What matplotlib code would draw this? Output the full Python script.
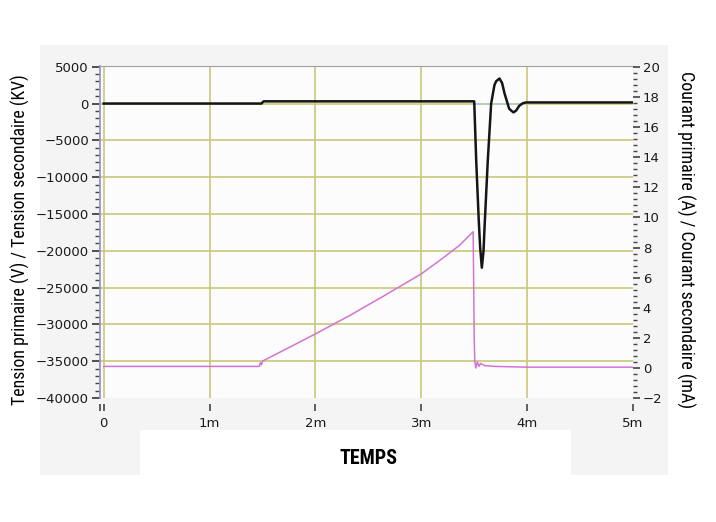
import numpy as np
import matplotlib
matplotlib.use("Agg")
import matplotlib.pyplot as plt
from matplotlib import font_manager
from matplotlib.patches import Rectangle
from matplotlib.ticker import MultipleLocator, FixedLocator

# time axis in ms, values
black_t = [0, 1.49, 1.51, 3.50, 3.519, 3.543, 3.556, 3.572, 3.588, 3.597, 3.628, 3.660,
           3.691, 3.707, 3.739, 3.764, 3.786, 3.830, 3.849, 3.871, 3.896, 3.926,
           3.959, 3.989, 5.0]
black_v = [0, 0, 300, 300, -7800, -15900, -19500, -22300, -20000, -17000, -7800, 0,
           2500, 3030, 3400, 2760, 1400, -700, -950, -1200, -950, -300,
           40, 150, 150]

blue_t = [3.51, 3.93]
blue_v = [0, 0]

pink_t = [0, 1.47, 1.48, 1.49, 1.50, 2.0, 2.32, 2.64, 3.0, 3.204, 3.361, 3.49,
          3.50, 3.505, 3.515, 3.53, 3.545, 3.56, 3.60, 3.70, 4.0, 5.0]
pink_i = [0.1, 0.1, 0.35, 0.2, 0.45, 2.26, 3.47, 4.76, 6.25, 7.3, 8.15, 9.05,
          2.0, 0.5, 0.0, 0.4, 0.1, 0.3, 0.15, 0.1, 0.05, 0.05]

xticks = [0, 1, 2, 3, 4, 5]
xlabels = ["0", "1m", "2m", "3m", "4m", "5m"]
yticks_left = np.arange(-40000, 5001, 5000)
yticks_right = np.arange(-2, 21, 2)


def narrow_font(bold=False):
    # look for a narrow / condensed face, fall back on Liberation Sans
    if bold:
        keys = ["LiberationSansNarrow-Bold.", "RobotoCondensed-Bold.", "NotoSans-CondensedBold.",
                "OpenSans-CondensedBold.", "OpenSans_Condensed-Bold.", "DejaVuSansCondensed-Bold."]
    else:
        keys = ["LiberationSansNarrow-Regular.", "RobotoCondensed-Regular.", "NotoSans-Condensed.",
                "OpenSans-CondensedRegular.", "OpenSans_Condensed-Regular.", "DejaVuSansCondensed."]
    files = [f.fname for f in font_manager.fontManager.ttflist]
    for k in keys:
        for fn in files:
            if k in fn:
                return font_manager.FontProperties(fname=fn)
    return font_manager.FontProperties(family="Liberation Sans",
                                       weight="bold" if bold else "normal")


fig = plt.figure(figsize=(7.16, 5.22), dpi=100, facecolor="white")

# grey backdrop of the capture + white strip around the x title
W, H = 716.0, 522.0
fig.patches.append(Rectangle((40 / W, 1 - 475 / H), 628 / W, 430 / H,
                             transform=fig.transFigure, facecolor="#f4f4f4",
                             edgecolor="none", zorder=-10))
fig.patches.append(Rectangle((140 / W, 1 - 476 / H), 431 / W, 46 / H,
                             transform=fig.transFigure, facecolor="white",
                             edgecolor="none", zorder=-9))

ax1 = fig.add_axes([100 / W, 1 - 398 / H, 533 / W, 332 / H])
ax1.set_facecolor("#fcfcfc")
ax2 = ax1.twinx()

grid_col = "#c8c87a"
for t in xticks[:-1]:
    ax1.axvline(t, color=grid_col, lw=1.2, zorder=0)
for v in yticks_left[1:-1]:
    ax1.axhline(v, color=grid_col, lw=1.2, zorder=0)

ax1.plot(blue_t, blue_v, color="#a9c6ea", lw=1.2, ls=(0, (4, 2)), zorder=2)
ax1.plot(black_t, black_v, color="#151515", lw=1.8, zorder=3, solid_joinstyle="round")
ax2.plot(pink_t, pink_i, color="#d374d3", lw=1.1, zorder=2)

ax1.set_xlim(-0.035, 5.0)
ax1.set_ylim(-40000, 5100)
ax2.set_ylim(-2, 20.07)

ax1.set_xticks(xticks)
ax1.set_xticklabels(xlabels)
ax1.xaxis.set_minor_locator(FixedLocator([-0.035]))
ax1.set_yticks(yticks_left)
ax1.yaxis.set_minor_locator(MultipleLocator(1000))
ax2.set_yticks(yticks_right)
ax2.yaxis.set_minor_locator(MultipleLocator(0.4))

for s in ["right", "bottom"]:
    ax1.spines[s].set_visible(False)
ax1.spines["bottom"].set_position(("outward", 4))
ax1.spines["top"].set_color("#a0a0a0")
ax1.spines["left"].set_color("#9696cc")
ax1.spines["left"].set_linewidth(1.3)
for s in ax2.spines.values():
    s.set_visible(False)

ax1.tick_params(axis="y", which="major", length=6, width=1.2, color="#333333",
                pad=2, labelsize=9.5, labelcolor="#1a1a1a")
ax1.tick_params(axis="y", which="minor", length=3.5, width=1.0, color="#444444")
ax1.tick_params(axis="x", which="both", length=5, width=1.2, color="#444444",
                pad=5, labelsize=9.5, labelcolor="#1a1a1a")
ax2.tick_params(axis="y", which="major", length=5, width=1.1, color="#333333",
                pad=2, labelsize=9.5, labelcolor="#1a1a1a")
ax2.tick_params(axis="y", which="minor", length=3, width=1.0, color="#444444")

reg = narrow_font()
bold = narrow_font(bold=True)
t_left = fig.text(20 / W, 1 - 240 / H, "Tension primaire (V) / Tension secondaire (KV)",
                  rotation=90, ha="center", va="center", fontproperties=reg)
t_right = fig.text(686 / W, 1 - 240 / H, "Courant primaire (A) / Courant secondaire (mA)",
                   rotation=270, ha="center", va="center", fontproperties=reg)
t_x = fig.text(368 / W, 1 - 459 / H, "TEMPS", ha="center", va="center",
               fontproperties=bold)

# size the titles so their length matches the capture
renderer = fig.canvas.get_renderer()
for txt, size0, length in [(t_left, 14, 331), (t_right, 14, 340), (t_x, 15, 58)]:
    txt.set_fontsize(size0)
    bb = txt.get_window_extent(renderer)
    txt.set_fontsize(size0 * length / max(bb.width, bb.height))

fig.savefig("out.png", dpi=100, facecolor="white")
